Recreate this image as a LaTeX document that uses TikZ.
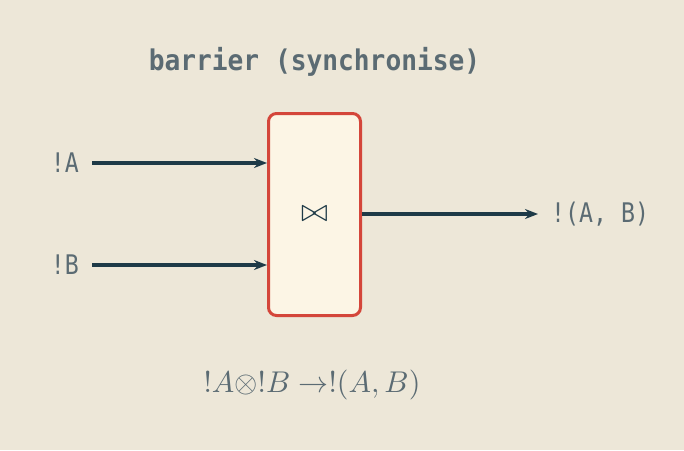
\documentclass[tikz,border=0pt]{standalone}
\usepackage{fontspec}
\usetikzlibrary{arrows.meta}
\newfontfamily\monof[FakeStretch=0.86]{DejaVu Sans Mono}
\newfontfamily\monob[FakeStretch=0.92]{DejaVu Sans Mono Bold}
\definecolor{bg}{HTML}{EDE7D8}
\definecolor{boxfill}{HTML}{FCF5E5}
\definecolor{boxline}{HTML}{D4463A}
\definecolor{wire}{HTML}{1E3A47}
\definecolor{txt}{HTML}{5B6B73}
\tikzset{
  wirearrow/.style={draw=wire, line width=3.2pt, -{Stealth[length=13pt,width=10pt]}},
  portlabel/.style={text=txt, font=\monof\fontsize{27}{30}\selectfont, inner sep=0pt},
  opbox/.style={draw=boxline, fill=boxfill, line width=3pt, rounded corners=8pt, minimum width=92pt, minimum height=202pt, inner sep=0pt},
}
\begin{document}
\begin{tikzpicture}[x=1pt,y=-1pt]
\useasboundingbox[fill=bg] (0,0) rectangle (684,450);
\node[text=txt, font=\monob\fontsize{28.5}{32}\selectfont, inner sep=0pt] (title) at (314.5,62) {barrier (synchronise)};
\node[opbox] (box) at (314.5,214.5) {};
\node[text=wire, inner sep=0pt] (op) at (314.5,214.5) {\scalebox{3.2}{$\bowtie$}};
\node[portlabel, anchor=east] (a) at (79,163) {!A};
\node[portlabel, anchor=east] (b) at (79,265) {!B};
\node[portlabel, anchor=west] (out) at (551,214) {!(A, B)};
\coordinate (ain) at (box.west |- a);
\coordinate (bin) at (box.west |- b);
\coordinate (oout) at (box.east |- out);
\draw[wirearrow] ([xshift=13pt]a.east) -- (ain);
\draw[wirearrow] ([xshift=13pt]b.east) -- (bin);
\draw[wirearrow] (oout) -- ([xshift=-13pt]out.west);
\node[text=txt, inner sep=0pt] (eq) at (312,385) {\scalebox{3.0}{$!A{\otimes}!B\to!(A,B)$}};
\end{tikzpicture}
\end{document}
